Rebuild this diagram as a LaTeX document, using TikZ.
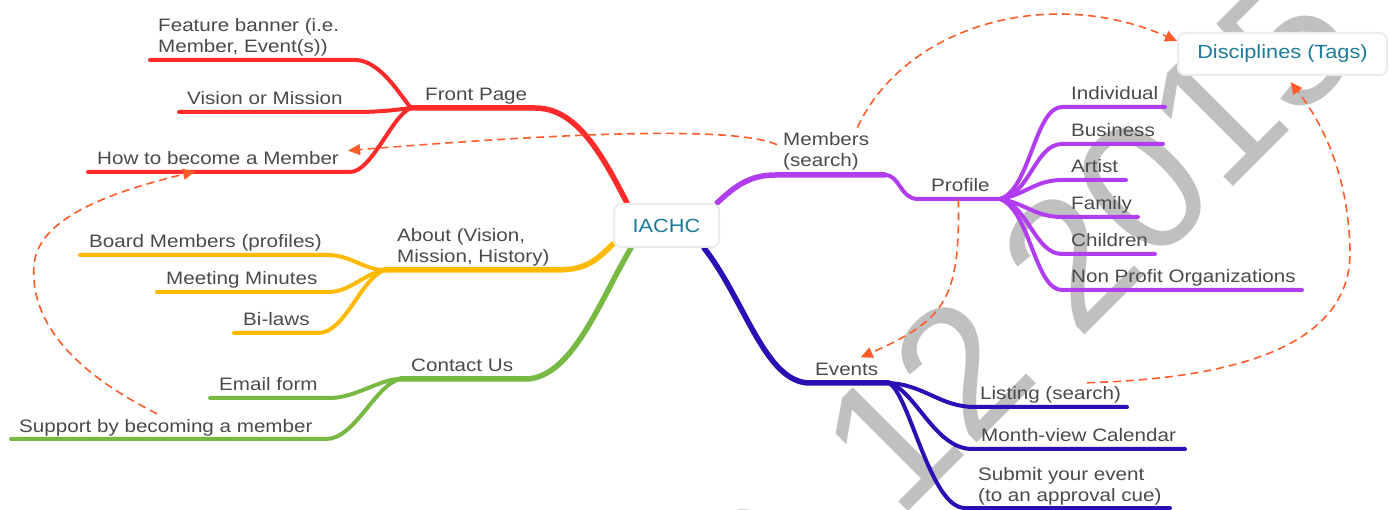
\documentclass[tikz,border=0pt]{standalone}
\usepackage{fontspec}
\setmainfont{Liberation Sans}[FakeStretch=1.145]
\newfontfamily\wmfont{Liberation Sans}
\usetikzlibrary{arrows.meta}
\definecolor{cred}{HTML}{FF2A2A}
\definecolor{cyel}{HTML}{FFBA00}
\definecolor{cgrn}{HTML}{78B944}
\definecolor{cpur}{HTML}{B03EF0}
\definecolor{cblu}{HTML}{2A0FB5}
\definecolor{clink}{HTML}{FF5C2B}
\definecolor{cteal}{HTML}{1C7A9C}
\definecolor{ctext}{HTML}{4A4A4A}
\definecolor{cwm}{HTML}{C0C0C0}
\definecolor{cborder}{HTML}{ECECEC}
\pgfdeclarelayer{wm}
\pgfdeclarelayer{bg}
\pgfsetlayers{wm,bg,main}
\begin{document}
\begin{tikzpicture}[x=1pt,y=-1pt,
  lbl/.style={anchor=base west, inner sep=0pt, text=ctext, font=\fontsize{18}{21}\selectfont},
  lbltwo/.style={anchor=south west, inner sep=0pt, align=left, text=ctext, font=\fontsize{18}{21}\selectfont},
  topic/.style={draw=cborder, line width=2pt, rounded corners=7pt, fill=white, text=cteal,
    font=\fontsize{19}{22}\selectfont, inner sep=0pt},
  trunk/.style={line width=5.5pt, line cap=round},
  twig/.style={line width=4pt, line cap=round},
  link/.style={draw=clink, line width=1.6pt, dash pattern=on 8pt off 5pt,
    -{Triangle[length=12pt,width=11pt]}},
  wmark/.style={inner sep=0pt, text=cwm, font=\wmfont\fontsize{184}{184}\selectfont}]
\useasboundingbox (0,0) rectangle (1390,510);

% watermark
\begin{pgfonlayer}{wm}
\node[wmark, rotate=45, anchor=base east] (stamp) at (898,522) {0\kern0.42em};
\node[wmark, rotate=45, anchor=base west] (stampb) at (898,522) {12 2015};
\end{pgfonlayer}

% topics
\node[topic, minimum width=105pt, minimum height=43pt] (iachc) at (666.5,225.5) {IACHC};
\node[topic, minimum width=209pt, minimum height=42pt] (disc) at (1282.5,54) {Disciplines (Tags)};

% labels
\node[lbl] (front) at (425,101) {Front Page};
\node[lbltwo] (banner) at (158,56.3) {Feature banner (i.e.\\Member, Event(s))};
\node[lbl] (vision) at (187,105) {Vision or Mission};
\node[lbl] (howto) at (97,165) {How to become a Member};
\node[lbltwo] (about) at (397,266.8) {About (Vision,\\Mission, History)};
\node[lbl] (board) at (89,248) {Board Members (profiles)};
\node[lbl] (minutes) at (166,285) {Meeting Minutes};
\node[lbl] (bilaws) at (243,326) {Bi-laws};
\node[lbl] (contact) at (411,372) {Contact Us};
\node[lbl] (email) at (219,391) {Email form};
\node[lbl] (support) at (19,432) {Support by becoming a member};
\node[lbltwo] (members) at (783,170.8) {Members\\(search)};
\node[lbl] (profile) at (931,192) {Profile};
\node[lbl] (indiv) at (1071,100) {Individual};
\node[lbl] (business) at (1071,137) {Business};
\node[lbl] (artist) at (1071,173) {Artist};
\node[lbl] (family) at (1071,210) {Family};
\node[lbl] (children) at (1071,247) {Children};
\node[lbl] (nonprofit) at (1071,283) {Non Profit Organizations};
\node[lbl] (events) at (815,376) {Events};
\node[lbl] (listing) at (980,400) {Listing (search)};
\node[lbl] (month) at (981,442) {Month-view Calendar};
\node[lbltwo] (submit) at (978,505.8) {Submit your event\\(to an approval cue)};

% junctions and line ends
\coordinate (jFP) at (411,108);
\coordinate (eFB) at (150,60);
\coordinate (eVM) at (179,112);
\coordinate (eHB) at (88,172);
\coordinate (jAB) at (384,270);
\coordinate (eBM) at (80,255);
\coordinate (eMM) at (157,292);
\coordinate (eBL) at (234,333);
\coordinate (jCU) at (400,379);
\coordinate (eEF) at (210,398);
\coordinate (eSB) at (11,439);
\coordinate (jMS) at (885,175);
\coordinate (jPR) at (1000,199);
\coordinate (eIN) at (1165,107);
\coordinate (eBU) at (1163,144);
\coordinate (eAR) at (1126,180);
\coordinate (eFA) at (1138,217);
\coordinate (eCH) at (1155,254);
\coordinate (eNP) at (1302,290);
\coordinate (jEV) at (889,383);
\coordinate (eLI) at (1127,407);
\coordinate (eMO) at (1185,449);
\coordinate (eSU) at (1170,508);

\begin{pgfonlayer}{bg}
% red
\draw[trunk,cred] ([xshift=14pt]iachc.north west) .. controls (600,150) and (575,108) .. (535,108) -- (jFP);
\draw[twig,cred] (jFP) .. controls (400,95) and (380,60) .. (355,60) -- (eFB);
\draw[twig,cred] (jFP) .. controls (395,110) and (380,112) .. (355,112) -- (eVM);
\draw[twig,cred] (jFP) .. controls (392,115) and (372,172) .. (350,172) -- (eHB);
% yellow
\draw[trunk,cyel] ([yshift=4pt]iachc.south west) .. controls (595,262) and (585,270) .. (555,270) -- (jAB);
\draw[twig,cyel] (jAB) .. controls (365,270) and (350,255) .. (328,255) -- (eBM);
\draw[twig,cyel] (jAB) .. controls (362,275) and (350,292) .. (328,292) -- (eMM);
\draw[twig,cyel] (jAB) .. controls (360,280) and (345,333) .. (318,333) -- (eBL);
% green
\draw[trunk,cgrn] ([xshift=18pt]iachc.south west) .. controls (600,300) and (572,379) .. (525,379) -- (jCU);
\draw[twig,cgrn] (jCU) .. controls (380,379) and (355,398) .. (330,398) -- (eEF);
\draw[twig,cgrn] (jCU) .. controls (375,385) and (355,439) .. (326,439) -- (eSB);
% purple
\draw[trunk,cpur] ([xshift=-3pt]iachc.north east) .. controls (735,186) and (750,175) .. (775,175) -- (jMS);
\draw[twig,cpur] (jMS) .. controls (900,175) and (900,199) .. (918,199) -- (jPR);
\draw[twig,cpur] (jPR) .. controls (1030,190) and (1035,107) .. (1062,107) -- (eIN);
\draw[twig,cpur] (jPR) .. controls (1030,195) and (1035,144) .. (1062,144) -- (eBU);
\draw[twig,cpur] (jPR) .. controls (1025,195) and (1035,180) .. (1062,180) -- (eAR);
\draw[twig,cpur] (jPR) .. controls (1025,203) and (1035,217) .. (1062,217) -- (eFA);
\draw[twig,cpur] (jPR) .. controls (1028,205) and (1035,254) .. (1062,254) -- (eCH);
\draw[twig,cpur] (jPR) .. controls (1030,210) and (1035,290) .. (1062,290) -- (eNP);
% blue
\draw[trunk,cblu] ([xshift=-16pt]iachc.south east) .. controls (745,300) and (765,383) .. (810,383) -- (jEV);
\draw[twig,cblu] (jEV) .. controls (925,385) and (940,407) .. (975,407) -- (eLI);
\draw[twig,cblu] (jEV) .. controls (915,390) and (935,449) .. (972,449) -- (eMO);
\draw[twig,cblu] (jEV) .. controls (910,395) and (930,508) .. (965,508) -- (eSU);

% dashed links
\draw[link] ([xshift=-12pt,yshift=5pt]members.north east) .. controls (905,25) and (1050,-15) .. ([yshift=-9pt]disc.north west);
\draw[link] ([xshift=-6pt,yshift=7pt]members.west) .. controls (740,128) and (600,130) .. ([xshift=9pt,yshift=8pt]howto.east);
\draw[link] ([xshift=138pt,yshift=5pt]support.north west) .. controls (70,370) and (30,320) .. (34,265)
   .. controls (38,215) and (120,190) .. ([xshift=98pt,yshift=-6pt]howto.south west);
\draw[link] ([xshift=-2pt,yshift=-7pt]profile.south) .. controls (960,300) and (945,320) .. ([xshift=14pt,yshift=6pt]events.north);
\draw[link] ([xshift=107pt,yshift=4pt]listing.north west) .. controls (1250,378) and (1352,340) .. (1350,250)
   .. controls (1348,170) and (1320,120) .. ([xshift=8pt,yshift=-6pt]disc.south);
\end{pgfonlayer}
\end{tikzpicture}
\end{document}
